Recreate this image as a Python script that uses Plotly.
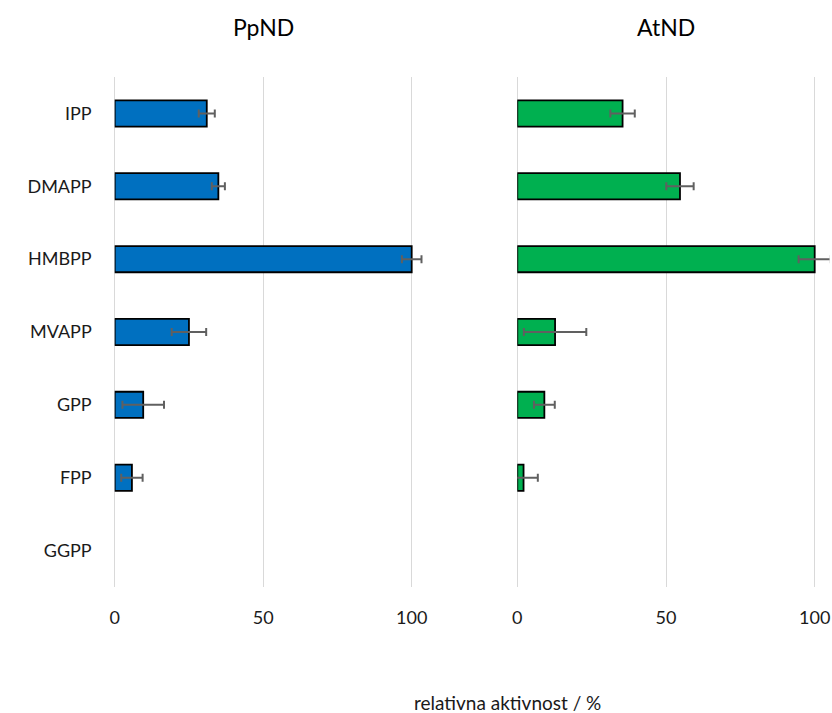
import plotly.graph_objects as go
from plotly.subplots import make_subplots

substrates = ["IPP", "DMAPP", "HMBPP", "MVAPP", "GPP", "FPP", "GGPP"]

# GGPP: no measurable activity, nothing drawn
ppnd_activity = [31.0, 34.9, 100.0, 25.0, 9.6, 5.8, None]
ppnd_error = [2.7, 2.2, 3.3, 5.8, 7.0, 3.6, None]

atnd_activity = [35.4, 54.7, 100.0, 12.7, 9.1, 2.1, None]
atnd_error = [4.1, 4.6, 5.4, 10.5, 3.5, 4.8, None]

panel_titles = ["PpND", "AtND"]
x_ticks = [0, 50, 100]

W, H = 832, 713
FONT = "Lato"
TEXT = "#1a1a1a"

fig = make_subplots(rows=1, cols=2, horizontal_spacing=0.1)

for col, (vals, errs, color) in enumerate(
    [(ppnd_activity, ppnd_error, "#0070c0"), (atnd_activity, atnd_error, "#00b050")], start=1
):
    fig.add_trace(
        go.Bar(
            y=substrates,
            x=vals,
            orientation="h",
            width=0.36,
            marker=dict(color=color, line=dict(color="black", width=1.8)),
            error_x=dict(type="data", array=errs, visible=True, color="#606060", thickness=2, width=4),
            showlegend=False,
        ),
        row=1,
        col=col,
    )

# pixel placement of the two plot areas
x_max = 105
domains = [(114.7, 114.7 + 2.97 * x_max), (517.3, 517.3 + 2.974 * x_max)]
y_top, y_bot = 77, 587

for i, (x0, x1) in enumerate(domains, start=1):
    fig.update_xaxes(
        domain=[x0 / W, x1 / W],
        range=[0, x_max],
        tickvals=x_ticks,
        showgrid=True,
        gridcolor="#d9d9d9",
        gridwidth=1,
        zeroline=True,
        zerolinecolor="#d9d9d9",
        zerolinewidth=1,
        showline=False,
        ticks="",
        automargin=False,
        ticklabelstandoff=18,
        tickfont=dict(family=FONT, size=18, color=TEXT),
        row=1,
        col=i,
    )
    fig.update_yaxes(
        domain=[1 - y_bot / H, 1 - y_top / H],
        categoryorder="array",
        categoryarray=substrates,
        autorange="reversed",
        showgrid=False,
        zeroline=False,
        showline=False,
        ticks="",
        automargin=False,
        showticklabels=(i == 1),
        ticklabelstandoff=22,
        tickfont=dict(family=FONT, size=18, color=TEXT),
        row=1,
        col=i,
    )

annotations = []
for title, (x0, x1) in zip(panel_titles, domains):
    centre = x0 + (x1 - x0) * 50 / x_max
    annotations.append(
        dict(
            text=title,
            x=centre / W,
            y=1 - 27 / H,
            xref="paper",
            yref="paper",
            xanchor="center",
            yanchor="middle",
            showarrow=False,
            font=dict(family=FONT, size=23, color="black"),
        )
    )
annotations.append(
    dict(
        text="relativna aktivnost / %",
        x=507 / W,
        y=1 - 702 / H,
        xref="paper",
        yref="paper",
        xanchor="center",
        yanchor="middle",
        showarrow=False,
        font=dict(family=FONT, size=19, color=TEXT),
    )
)

fig.update_layout(
    width=W,
    height=H,
    margin=dict(l=0, r=0, t=0, b=0),
    paper_bgcolor="white",
    plot_bgcolor="white",
    annotations=annotations,
)

fig.write_html(
    "out.html",
    config={"displayModeBar": False},
    post_script="document.body.style.margin='0';document.body.style.overflow='hidden';",
)
